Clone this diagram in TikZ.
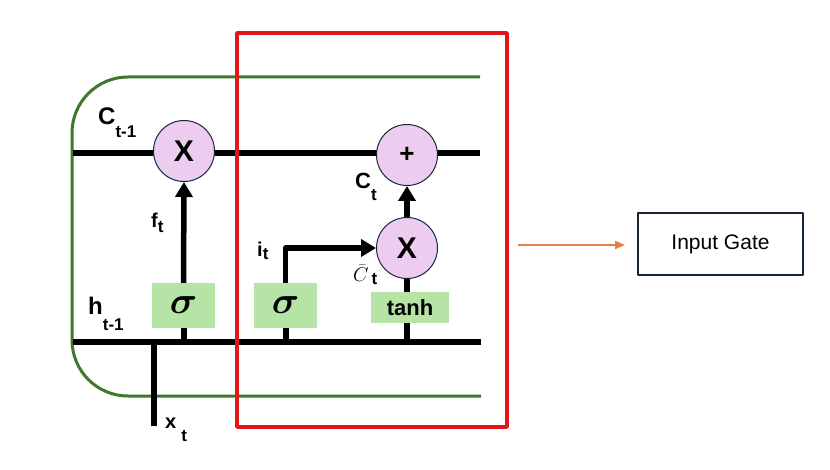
\RequirePackage{fix-cm}
\documentclass[tikz,border=0pt]{standalone}
\usepackage{fontspec}
\setmainfont{Liberation Sans}
\usepackage{amsmath,bm}
\usetikzlibrary{arrows.meta}

\definecolor{gatepink}{RGB}{236,205,240}
\definecolor{boxgreen}{RGB}{181,228,166}
\definecolor{cellgreen}{RGB}{62,120,40}
\definecolor{framered}{RGB}{226,22,22}
\definecolor{linkorange}{RGB}{228,126,66}
\definecolor{gatenavy}{RGB}{22,38,52}

\newcommand{\lsub}[2][9pt]{\raisebox{-#1}{\fontsize{17}{17}\selectfont #2}}

\tikzset{
  op/.style = {circle, draw = gatenavy, line width = 1pt, fill = gatepink,
    minimum size = 61pt, inner sep = 0pt, font = \fontsize{30}{30}\selectfont\bfseries},
  act/.style = {fill = boxgreen, inner sep = 0pt},
  wire/.style = {line width = 5.5pt},
  flow/.style = {line width = 5.5pt, -{Triangle[length = 15pt, width = 17pt]}},
  lbl/.style = {anchor = base west, inner sep = 0pt, font = \fontsize{24}{24}\selectfont\bfseries},
}

\begin{document}
\begin{tikzpicture}[x = 1pt, y = -1pt, line join = round]
\useasboundingbox (0, 0) rectangle (830, 470);

% cell outline and the two rails
\draw[cellgreen, line width = 3pt, rounded corners = 56pt]
  (480, 77) -- (72, 77) -- (72, 396) -- (481, 396);
\coordinate (cin)  at (73, 153);
\coordinate (cout) at (480, 153);
\coordinate (hin)  at (73, 342);
\coordinate (hout) at (481, 342);
\coordinate (xin)  at (154, 426);
\draw[wire] (cin) -- (cout);
\draw[wire] (hin) -- (hout);
\draw[wire] (xin) -- (xin |- hin);

% gates
\node[op] (mulf) at (184, 151) {X};
\node[op, font = \fontsize{26}{26}\selectfont\bfseries] (addc) at (407, 155) {+};
\node[op] (muli) at (407, 248) {X};
\node[act, minimum width = 63pt, minimum height = 45pt] (sigf) at (183.5, 305.5)
  {\fontsize{38}{38}\selectfont$\boldsymbol{\sigma}$};
\node[act, minimum width = 63pt, minimum height = 45pt] (sigi) at (285.5, 305.5)
  {\fontsize{38}{38}\selectfont$\boldsymbol{\sigma}$};
\node[act, minimum width = 78pt, minimum height = 31pt,
  font = \fontsize{22}{22}\selectfont\bfseries] (tanhbox) at (410, 307.5) {tanh};

\foreach \b/\x in {sigf/184, sigi/286, tanhbox/407}{
  \draw[wire] (\x, 342) -- (\x, 0 |- \b.south);
}
\draw[flow] (sigf.north) -- (mulf.south);
\draw[flow] (sigi.north) |- (muli.west);
\draw[wire] (tanhbox.north -| muli.south) -- (muli.south);
\draw[flow] (muli.north) -- (addc.south);

% labels
\node[lbl] (cprev) at (98, 125) {C\lsub[13pt]{t-1}};
\node[lbl] (hprev) at (88, 315) {h\lsub[16pt]{t-1}};
\node[lbl, font = \fontsize{20}{20}\selectfont\bfseries] (xt) at (165, 428)
  {x\hspace{5pt}\lsub[13pt]{t}};
\node[lbl, font = \fontsize{20}{20}\selectfont\bfseries] (ft) at (151, 228)
  {f\lsub[5pt]{t}};
\node[lbl, font = \fontsize{20}{20}\selectfont\bfseries] (it) at (257, 257)
  {i\lsub[3pt]{t}};
\node[lbl, font = \fontsize{22}{22}\selectfont\bfseries] (ct) at (355, 189)
  {C\lsub[12pt]{t}};
\node[lbl, font = \fontsize{20}{20}\selectfont] (cbar) at (353, 282)
  {$\bar{C}$\hspace{3pt}\lsub[3pt]{\bfseries t}};

% frame round the input gate
\draw[framered, line width = 3.5pt] (237, 33) rectangle (507, 427);

\node[draw = gatenavy, line width = 1.3pt, minimum width = 165pt, minimum height = 62pt,
  font = \fontsize{21}{21}\selectfont] (gate) at (720.5, 244) {Input Gate};
\coordinate (frameout) at (518, 245);
\draw[linkorange, line width = 2pt, -{Triangle[length = 10pt, width = 8pt]}]
  (frameout) -- (frameout -| 625, 0);
\end{tikzpicture}
\end{document}
